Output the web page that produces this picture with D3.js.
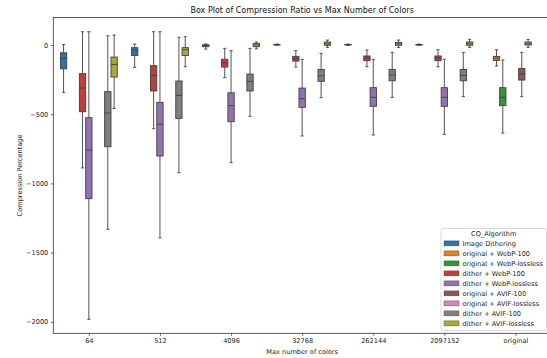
<!DOCTYPE html>
<html><head><meta charset="utf-8">
<script src="https://cdn.jsdelivr.net/npm/d3@7"></script>
<style>html,body{margin:0;padding:0;background:#fff;}svg{display:block;font-family:"DejaVu Sans",sans-serif;}</style>
</head><body>
<svg id="c" width="547" height="358"></svg>
<script>
const categories = ["64","512","4096","32768","262144","2097152","original"];
const hues = ["Image Dithering","original + WebP-100","original + WebP-lossless","dither + WebP-100","dither + WebP-lossless","original + AVIF-100","original + AVIF-lossless","dither + AVIF-100","dither + AVIF-lossless"];
const colors = ["#3274a1","#e1812c","#3a923a","#c03d3e","#9372b2","#845b53","#d684bd","#7f7f7f","#a9aa35"];
const yTicks = [0,-500,-1000,-1500,-2000];
// each entry: [lower whisker, Q1, median, Q3, upper whisker] per category (null = absent)
const imageDithering   = [[-342,-172,-97,-56,4],[-161,-75,-36,-19,7],[-29,-12,-6,2,8],[-2,1,3,4,7],[-2,1,3,4,7],[-2,1,3,4,7],null];
const origWebP100      = [null,null,null,null,null,null,[-152,-111,-95,-82,-34]];
const origWebPLossless = [null,null,null,null,null,null,[-636,-438,-378,-308,-108]];
const ditherWebP100    = [[-888,-482,-311,-207,96],[-605,-332,-219,-149,96],[-236,-159,-128,-103,-24],[-159,-116,-99,-82,-41],[-157,-113,-94,-79,-36],[-157,-113,-94,-79,-34],null];
const ditherWebPLossless=[[-1982,-1110,-759,-525,96],[-1394,-802,-573,-414,96],[-850,-554,-438,-345,-41],[-657,-450,-388,-311,-103],[-650,-443,-378,-308,-103],[-645,-443,-378,-308,-103],null];
const origAVIF100      = [null,null,null,null,null,null,[-373,-253,-210,-169,-53]];
const origAVIFLossless = [null,null,null,null,null,null,[-17,0,9,22,41]];
const ditherAVIF100    = [[-1332,-735,-491,-337,67],[-923,-530,-364,-260,56],[-515,-332,-262,-210,-24],[-381,-262,-222,-176,-60],[-378,-258,-217,-176,-53],[-373,-258,-219,-176,-53],null];
const ditherAVIFLossless=[[-458,-231,-140,-87,72],[-157,-75,-34,-19,60],[-27,-12,0,12,22],[-17,-2,9,22,36],[-17,-2,9,19,36],[-17,-2,9,22,41],null];
const seriesData = [imageDithering,origWebP100,origWebPLossless,ditherWebP100,ditherWebPLossless,origAVIF100,origAVIFLossless,ditherAVIF100,ditherAVIFLossless];

const svg = d3.select("#c");
const L = 53.3, R = 551, T = 17.5, B = 333.3;
const x = d3.scalePoint().domain(categories).range([L, R]).padding(0.5);
const step = x.step();
const xh = d3.scaleBand().domain(hues).range([-0.4*step, 0.4*step]);
const y = d3.scaleLinear().domain([-2083, 199]).range([B, T]);
const color = d3.scaleOrdinal().domain(hues).range(colors);
const lineC = "#404040";

// title
svg.append("text").attr("x",(L+R)/2).attr("y",13).attr("text-anchor","middle")
  .attr("font-size",8).attr("fill","#111").text("Box Plot of Compression Ratio vs Max Number of Colors");

// axes
const fmt = d => d < 0 ? "\u2212" + Math.abs(d) : String(d);
const ay = svg.append("g").attr("transform",`translate(${L},0)`)
  .call(d3.axisLeft(y).tickValues(yTicks).tickFormat(fmt).tickSize(2.5).tickPadding(2.5));
const ax = svg.append("g").attr("transform",`translate(0,${B})`)
  .call(d3.axisBottom(x).tickSize(2.5).tickPadding(2.5));
[ay,ax].forEach(g=>{
  g.select(".domain").remove();
  g.selectAll("line").attr("stroke","#333").attr("stroke-width",0.7);
  g.selectAll("text").attr("font-size",6.6).attr("fill","#222").attr("font-family","DejaVu Sans");
});
svg.append("rect").attr("x",L).attr("y",T).attr("width",R-L).attr("height",B-T)
  .attr("fill","none").attr("stroke","#333").attr("stroke-width",0.8);

svg.append("text").attr("x",(L+R)/2).attr("y",354).attr("text-anchor","middle")
  .attr("font-size",6.6).attr("fill","#222").text("Max number of colors");
svg.append("text").attr("transform",`translate(22,${(T+B)/2}) rotate(-90)`).attr("text-anchor","middle")
  .attr("font-size",6.6).attr("fill","#222").text("Compression Percentage");

// boxes
const bw = xh.bandwidth();
const capW = bw*0.5;
const plot = svg.append("g");
hues.forEach((h,hi)=>{
  seriesData[hi].forEach((s,ci)=>{
    if(!s) return;
    const cx = x(categories[ci]) + xh(h) + bw/2;
    const g = plot.append("g");
    const [lo,q1,med,q3,hi2] = s;
    g.append("line").attr("x1",cx).attr("x2",cx).attr("y1",y(hi2)).attr("y2",y(q3)).attr("stroke",lineC).attr("stroke-width",0.9);
    g.append("line").attr("x1",cx).attr("x2",cx).attr("y1",y(q1)).attr("y2",y(lo)).attr("stroke",lineC).attr("stroke-width",0.9);
    g.append("line").attr("x1",cx-capW/2).attr("x2",cx+capW/2).attr("y1",y(hi2)).attr("y2",y(hi2)).attr("stroke",lineC).attr("stroke-width",0.9);
    g.append("line").attr("x1",cx-capW/2).attr("x2",cx+capW/2).attr("y1",y(lo)).attr("y2",y(lo)).attr("stroke",lineC).attr("stroke-width",0.9);
    g.append("rect").attr("x",cx-bw/2).attr("y",y(q3)).attr("width",bw).attr("height",Math.max(0.5,y(q1)-y(q3)))
      .attr("fill",color(h)).attr("stroke",lineC).attr("stroke-width",0.9);
    g.append("line").attr("x1",cx-bw/2).attr("x2",cx+bw/2).attr("y1",y(med)).attr("y2",y(med)).attr("stroke",lineC).attr("stroke-width",0.9);
  });
});

// legend
const lx = 441, ly = 228.5, lw = 105.5, lh = 102;
const leg = svg.append("g");
leg.append("rect").attr("x",lx).attr("y",ly).attr("width",lw).attr("height",lh).attr("rx",2)
  .attr("fill","#fff").attr("fill-opacity",0.85).attr("stroke","#d0d0d0").attr("stroke-width",0.8);
leg.append("text").attr("x",lx+lw/2).attr("y",ly+7.5).attr("text-anchor","middle")
  .attr("font-size",6.6).attr("fill","#222").text("CQ_Algorithm");
hues.forEach((h,i)=>{
  const yy = ly + 15 + i*10;
  leg.append("rect").attr("x",lx+3).attr("y",yy-2.6).attr("width",15).attr("height",5)
    .attr("fill",color(h)).attr("stroke",lineC).attr("stroke-width",0.4);
  leg.append("text").attr("x",lx+21.5).attr("y",yy+2.3).attr("font-size",6.6).attr("fill","#222").text(h);
});
</script>
</body></html>
